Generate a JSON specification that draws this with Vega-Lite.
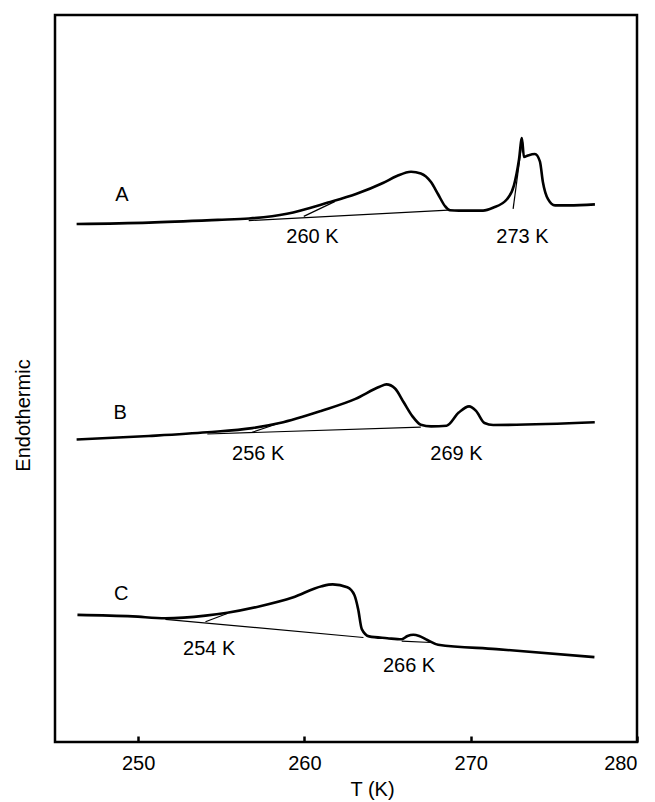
{
  "$schema": "https://vega.github.io/schema/vega-lite/v6.json",
  "width": 582,
  "height": 727,
  "autosize": {"type": "none"},
  "padding": {"left": 55, "top": 15, "right": 18, "bottom": 60},
  "background": "white",
  "config": {
    "view": {"stroke": "black", "strokeWidth": 2.5},
    "font": "Liberation Sans"
  },
  "datasets": {
    "curves": [
      {"curve": "A", "i": 0, "T": 246.3, "v": 518},
      {"curve": "A", "i": 1, "T": 250.65, "v": 519.4},
      {"curve": "A", "i": 2, "T": 254.8, "v": 522.1},
      {"curve": "A", "i": 3, "T": 256.67, "v": 523.5},
      {"curve": "A", "i": 4, "T": 258.95, "v": 528.3},
      {"curve": "A", "i": 5, "T": 261.42, "v": 539.4},
      {"curve": "A", "i": 6, "T": 263.1, "v": 548},
      {"curve": "A", "i": 7, "T": 264.72, "v": 559},
      {"curve": "A", "i": 8, "T": 265.56, "v": 566},
      {"curve": "A", "i": 9, "T": 266.41, "v": 570.3},
      {"curve": "A", "i": 10, "T": 267.0, "v": 568.6},
      {"curve": "A", "i": 11, "T": 267.61, "v": 560},
      {"curve": "A", "i": 12, "T": 268.03, "v": 548},
      {"curve": "A", "i": 13, "T": 268.45, "v": 536},
      {"curve": "A", "i": 14, "T": 268.75, "v": 531.8},
      {"curve": "A", "i": 15, "T": 269.29, "v": 531.4},
      {"curve": "A", "i": 16, "T": 270.74, "v": 531.4},
      {"curve": "A", "i": 17, "T": 271.34, "v": 534.2},
      {"curve": "A", "i": 18, "T": 272.18, "v": 542.8},
      {"curve": "A", "i": 19, "T": 272.6, "v": 556.6},
      {"curve": "A", "i": 20, "T": 272.9, "v": 582},
      {"curve": "A", "i": 21, "T": 273.08, "v": 604},
      {"curve": "A", "i": 22, "T": 273.2, "v": 585},
      {"curve": "A", "i": 23, "T": 273.44, "v": 586.5},
      {"curve": "A", "i": 24, "T": 273.86, "v": 588},
      {"curve": "A", "i": 25, "T": 274.16, "v": 580.7},
      {"curve": "A", "i": 26, "T": 274.34, "v": 560},
      {"curve": "A", "i": 27, "T": 274.65, "v": 542.8},
      {"curve": "A", "i": 28, "T": 275.07, "v": 536.6},
      {"curve": "A", "i": 29, "T": 275.91, "v": 536.6},
      {"curve": "A", "i": 30, "T": 277.47, "v": 537.6},
      {"curve": "B", "i": 0, "T": 246.3, "v": 302.5},
      {"curve": "B", "i": 1, "T": 250.65, "v": 306},
      {"curve": "B", "i": 2, "T": 254.16, "v": 309.7},
      {"curve": "B", "i": 3, "T": 256.86, "v": 313.9},
      {"curve": "B", "i": 4, "T": 258.51, "v": 319},
      {"curve": "B", "i": 5, "T": 261.0, "v": 331.1},
      {"curve": "B", "i": 6, "T": 263.07, "v": 343.1},
      {"curve": "B", "i": 7, "T": 264.52, "v": 355.2},
      {"curve": "B", "i": 8, "T": 264.93, "v": 357.6},
      {"curve": "B", "i": 9, "T": 265.45, "v": 353.5},
      {"curve": "B", "i": 10, "T": 265.97, "v": 339.7},
      {"curve": "B", "i": 11, "T": 266.49, "v": 325.9},
      {"curve": "B", "i": 12, "T": 267.0, "v": 317.3},
      {"curve": "B", "i": 13, "T": 267.62, "v": 315.6},
      {"curve": "B", "i": 14, "T": 268.55, "v": 316.3},
      {"curve": "B", "i": 15, "T": 269.28, "v": 329.4},
      {"curve": "B", "i": 16, "T": 269.9, "v": 335.6},
      {"curve": "B", "i": 17, "T": 270.32, "v": 331.1},
      {"curve": "B", "i": 18, "T": 270.83, "v": 319},
      {"curve": "B", "i": 19, "T": 271.35, "v": 317},
      {"curve": "B", "i": 20, "T": 277.46, "v": 319.7},
      {"curve": "C", "i": 0, "T": 246.35, "v": 127.1},
      {"curve": "C", "i": 1, "T": 249.67, "v": 125.6},
      {"curve": "C", "i": 2, "T": 251.64, "v": 123.8},
      {"curve": "C", "i": 3, "T": 254.05, "v": 126.4},
      {"curve": "C", "i": 4, "T": 255.36, "v": 129.3},
      {"curve": "C", "i": 5, "T": 257.33, "v": 135.8},
      {"curve": "C", "i": 6, "T": 259.29, "v": 144.5},
      {"curve": "C", "i": 7, "T": 261.04, "v": 155.8},
      {"curve": "C", "i": 8, "T": 261.7, "v": 157.6},
      {"curve": "C", "i": 9, "T": 262.58, "v": 154.7},
      {"curve": "C", "i": 10, "T": 263.01, "v": 146.7},
      {"curve": "C", "i": 11, "T": 263.23, "v": 132.9},
      {"curve": "C", "i": 12, "T": 263.45, "v": 112.9},
      {"curve": "C", "i": 13, "T": 263.89, "v": 105.6},
      {"curve": "C", "i": 14, "T": 264.98, "v": 103.8},
      {"curve": "C", "i": 15, "T": 265.85, "v": 102.7},
      {"curve": "C", "i": 16, "T": 266.2, "v": 106},
      {"curve": "C", "i": 17, "T": 266.55, "v": 107.2},
      {"curve": "C", "i": 18, "T": 266.9, "v": 106},
      {"curve": "C", "i": 19, "T": 267.39, "v": 102},
      {"curve": "C", "i": 20, "T": 268.04, "v": 97.3},
      {"curve": "C", "i": 21, "T": 271.54, "v": 92.9},
      {"curve": "C", "i": 22, "T": 277.44, "v": 84.9}
    ],
    "guides": [
      {"seg": "A_base", "T": 256.65, "v": 521.4},
      {"seg": "A_base", "T": 268.66, "v": 531.8},
      {"seg": "A_tan", "T": 259.96, "v": 525.6},
      {"seg": "A_tan", "T": 261.82, "v": 540.4},
      {"seg": "A_273", "T": 272.55, "v": 533.2},
      {"seg": "A_273", "T": 273.11, "v": 603},
      {"seg": "B_base", "T": 254.16, "v": 308},
      {"seg": "B_base", "T": 267.0, "v": 314.9},
      {"seg": "B_tan", "T": 256.86, "v": 309.7},
      {"seg": "B_tan", "T": 258.51, "v": 319},
      {"seg": "C_base", "T": 251.64, "v": 122.7},
      {"seg": "C_base", "T": 263.55, "v": 104.5},
      {"seg": "C_tan", "T": 254.05, "v": 120.2},
      {"seg": "C_tan", "T": 255.36, "v": 128.5},
      {"seg": "C_266", "T": 265.85, "v": 100.9},
      {"seg": "C_266", "T": 267.6, "v": 99.5}
    ],
    "labels": [
      {"label": "A", "T": 249.03, "v": 547},
      {"label": "B", "T": 248.92, "v": 328.7},
      {"label": "C", "T": 248.98, "v": 148.2},
      {"label": "260 K", "T": 260.48, "v": 505},
      {"label": "273 K", "T": 273.11, "v": 505},
      {"label": "256 K", "T": 257.22, "v": 288},
      {"label": "269 K", "T": 269.14, "v": 288},
      {"label": "254 K", "T": 254.27, "v": 92.9},
      {"label": "266 K", "T": 266.29, "v": 76.5}
    ]
  },
  "layer": [
    {
      "data": {"name": "guides"},
      "mark": {"type": "line", "color": "black", "strokeWidth": 1.2},
      "encoding": {
        "x": {
          "field": "T", "type": "quantitative",
          "scale": {"domain": [245, 280], "nice": false, "zero": false},
          "axis": {
            "values": [250, 260, 270, 280],
            "title": "T (K)",
            "titleX": 317,
            "domain": false,
            "grid": false,
            "tickSize": -6,
            "tickWidth": 2.5,
            "tickColor": "black",
            "labelFontSize": 20,
            "labelColor": "black",
            "labelPadding": 17,
            "labelFont": "Liberation Sans",
            "titleFont": "Liberation Sans",
            "titleFontSize": 20,
            "titleFontWeight": "normal",
            "titleColor": "black",
            "titlePadding": 6
          }
        },
        "y": {
          "field": "v", "type": "quantitative",
          "scale": {"domain": [0, 727], "nice": false, "zero": false},
          "axis": {
            "title": "Endothermic",
            "titleY": 400,
            "domain": false,
            "grid": false,
            "ticks": false,
            "labels": false,
            "titleFont": "Liberation Sans",
            "titleFontSize": 20,
            "titleFontWeight": "normal",
            "titleColor": "black",
            "titlePadding": 22
          }
        },
        "detail": {"field": "seg"}
      }
    },
    {
      "data": {"name": "curves"},
      "mark": {"type": "line", "color": "black", "strokeWidth": 2.6, "interpolate": "monotone"},
      "encoding": {
        "x": {"field": "T", "type": "quantitative"},
        "y": {"field": "v", "type": "quantitative"},
        "detail": {"field": "curve"},
        "order": {"field": "i", "type": "quantitative"}
      }
    },
    {
      "data": {"name": "labels"},
      "mark": {"type": "text", "fontSize": 20, "font": "Liberation Sans", "color": "black", "align": "center", "baseline": "middle"},
      "encoding": {
        "x": {"field": "T", "type": "quantitative"},
        "y": {"field": "v", "type": "quantitative"},
        "text": {"field": "label"}
      }
    }
  ]
}
